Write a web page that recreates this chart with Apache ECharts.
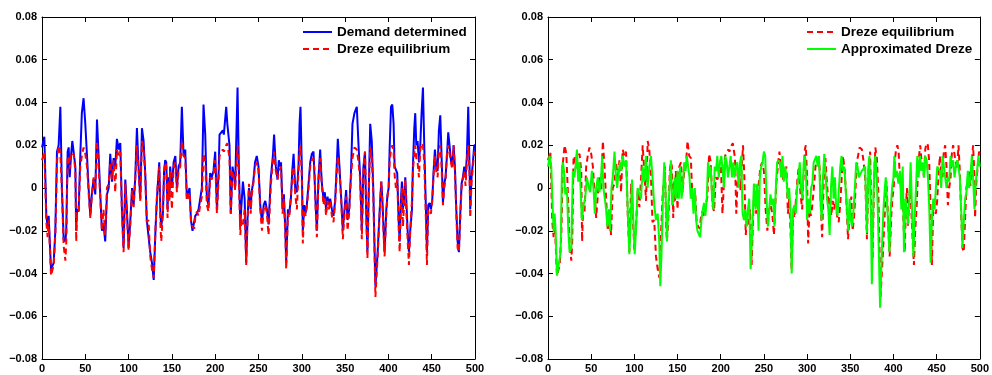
<!DOCTYPE html>
<html>
<head>
<meta charset="utf-8">
<script src="https://cdn.jsdelivr.net/npm/echarts@6/dist/echarts.min.js"></script>
<style>
  html, body { margin: 0; padding: 0; background: #fff; }
  #chart { width: 992px; height: 375px; }
</style>
</head>
<body>
<div id="chart"></div>
<script>
// [t, value]
const demandDetermined = [[0,0.019],[2.7,0.024],[5,-0.013],[6.5,-0.018],[7.7,-0.013],[10.4,-0.038],[13.5,-0.035],[15.4,-0.02],[17.3,0.017],[19.2,0.02],[21.2,0.038],[23,0],[25,-0.024],[27,-0.025],[28,-0.02],[29.6,0.017],[30.8,0.019],[32,0.005],[33.5,0.015],[35,0.022],[36.5,0.022],[38.5,0.01],[39.5,-0.02],[40.4,-0.01],[42.3,-0.011],[44.2,0.015],[46,0.035],[48,0.042],[50,0.03],[52,0.015],[53.8,0],[55.8,-0.013],[57.7,-0.002],[59.6,0.004],[61.5,-0.003],[63.5,0.032],[65.4,0.015],[67.3,-0.003],[69.2,-0.02],[71,-0.017],[73,-0.025],[75,-0.003],[77,0],[78.8,0.016],[80.8,0.003],[82.7,0.014],[84.6,0.01],[86.5,0.023],[88.5,0.018],[90.4,0.021],[92.3,-0.01],[94.2,-0.028],[96.2,0.004],[98,-0.01],[100,-0.028],[102,-0.015],[104,0],[105.8,-0.008],[107.7,0.005],[109.6,0.028],[111.5,0.01],[113.5,-0.005],[115.4,0.028],[117.3,0.022],[119.2,0.007],[121,-0.015],[123,-0.015],[125,-0.03],[127,-0.035],[129,-0.043],[131,-0.02],[132.7,-0.005],[135.4,0.012],[136.8,-0.013],[137.7,-0.018],[139.6,-0.012],[141,0.008],[142.3,0.013],[143.5,0.012],[145,-0.01],[146,0.005],[147,-0.005],[148,0.01],[150,0],[152,0.012],[154,0.015],[155.8,0],[157.7,0.01],[159.6,0.012],[161.5,0.038],[163.5,0.015],[165.4,0.018],[167.3,-0.005],[169,-0.002],[170.4,0],[172,-0.015],[173.8,-0.02],[175.8,-0.02],[177,-0.013],[178.8,-0.012],[180.8,-0.01],[182.7,-0.005],[184.6,0],[186.5,0.039],[188.5,0.025],[190.4,-0.005],[192.3,-0.008],[194.2,0.007],[196,0.005],[198,0.008],[200,0.017],[202,-0.01],[204,0.008],[205,0.025],[206.5,0.025],[208.8,0.027],[210,0.025],[212.7,0.038],[214,0.03],[216.5,0.02],[218,-0.012],[220,0.01],[222,0.005],[223,0],[225.8,0.047],[227.3,0.01],[229,-0.018],[230,-0.01],[232,0.003],[234,-0.005],[235.8,-0.035],[237.3,-0.015],[239,0],[241,-0.01],[242,-0.002],[244,0.003],[246,0.012],[248,0.015],[250,0.01],[252,-0.008],[254,-0.016],[256,-0.008],[257.8,-0.006],[259.7,-0.01],[261.6,-0.017],[264.3,0.005],[266.6,0.015],[268,0.025],[270,0.01],[272,0.004],[273.5,0.013],[275,0.01],[276,0.012],[277.8,-0.01],[279.3,-0.003],[281,-0.02],[282,-0.035],[284,-0.01],[285.5,-0.012],[287.4,-0.005],[289,0.008],[290.5,0.016],[292.4,0],[294.3,-0.002],[296.2,0.01],[297.4,0.03],[298.5,0.038],[300,0.01],[301.2,-0.02],[302.8,-0.008],[304.3,-0.012],[305.8,-0.008],[307.8,0.002],[309.7,0.012],[311.6,0.016],[313.5,0.017],[314.7,0.005],[316.2,-0.01],[317.4,-0.02],[319.3,0.005],[321.2,0.018],[323,0.003],[325,-0.005],[326.6,-0.002],[328,-0.01],[329.7,-0.004],[331.2,-0.008],[332.8,-0.005],[334.7,-0.01],[336.6,-0.013],[338.5,-0.006],[340.5,0.012],[341.6,0.023],[343.5,0.01],[345.5,-0.005],[347.4,-0.02],[349.3,-0.01],[351.2,-0.001],[352.8,-0.015],[354.7,-0.01],[356.6,0.005],[358.5,0.03],[360.8,0.035],[363.5,0.038],[365.5,0.02],[367.4,0.005],[369.3,-0.02],[371.2,0.01],[373,0.017],[374.3,-0.01],[375.8,-0.03],[377.4,0],[379,0.03],[380.8,0.022],[382.5,0],[385,-0.046],[387.6,-0.03],[389,-0.018],[390.6,-0.005],[391.8,0.003],[393,-0.005],[394.5,-0.02],[395.6,-0.03],[397.6,-0.01],[399,-0.003],[400.3,0],[401.4,0.018],[403,0.038],[404.5,0.039],[406,0.03],[407.2,0.01],[408.7,0.01],[410.2,0.007],[411.8,-0.015],[413,-0.025],[414.5,-0.005],[415.6,0.003],[416.8,-0.01],[418,-0.005],[419.5,0.005],[420.6,-0.005],[422.2,-0.02],[423.7,-0.03],[425.2,-0.02],[427.2,-0.01],[428.3,0.01],[429.9,0.028],[431,0.035],[432.2,0.02],[433.7,0.022],[435.3,0.012],[436.8,0.02],[438.3,0.035],[439.9,0.047],[441.4,0.02],[443,-0.005],[444.5,-0.03],[446,-0.008],[447.6,-0.007],[449.1,-0.01],[450.6,-0.006],[452.2,0.008],[453.7,0.018],[455.2,0.01],[456.8,0.008],[458.3,0.027],[459.9,0.034],[461.4,0.015],[463,-0.007],[464.5,0.002],[466,0.005],[467.6,0.015],[469.1,0.026],[470.6,0.02],[472.2,0.013],[473.7,0.01],[475.3,0.02],[476.8,0.01],[478.4,-0.01],[479.9,-0.025],[481.4,-0.03],[483,-0.012],[484.5,0.002],[486,0.005],[487.6,0.01],[489.1,0.005],[490.6,0.015],[492.2,0.038],[493.7,0.01],[494.5,-0.01],[496,0.005],[497.6,0.012],[499.1,0.02],[500,0.02]];

const drezeEquilibrium = [[0,0.013],[2.7,0.017],[5,-0.016],[6.5,-0.023],[7.7,-0.015],[10.4,-0.041],[13.5,-0.036],[15.4,-0.022],[17.3,0.012],[19.2,0.02],[21.2,0.016],[23,-0.002],[25,-0.027],[27,-0.034],[28,-0.026],[29.6,0.015],[30.8,0.014],[32,0.009],[33.5,0.016],[35,0.015],[36.5,0.016],[38.5,0.008],[39.5,-0.025],[40.4,-0.012],[42.3,-0.011],[44.2,0.01],[46,0.015],[48,0.019],[50,0.016],[52,0.01],[53.8,-0.002],[55.8,-0.014],[57.7,-0.003],[59.6,0.005],[61.5,-0.001],[63.5,0.022],[65.4,0.01],[67.3,-0.005],[69.2,-0.02],[71,-0.01],[73,-0.022],[75,0],[77,0.002],[78.8,0.012],[80.8,0.004],[82.7,0.013],[84.6,-0.002],[86.5,0.018],[88.5,0.015],[90.4,0.017],[92.3,-0.012],[94.2,-0.03],[96.2,0.002],[98,-0.012],[100,-0.029],[102,-0.017],[104,-0.001],[105.8,-0.009],[107.7,0.004],[109.6,0.02],[111.5,0.008],[113.5,-0.006],[115.4,0.022],[117.3,0.018],[119.2,0.006],[121,-0.016],[123,-0.015],[125,-0.032],[127,-0.038],[129,-0.042],[131,-0.02],[132.7,-0.004],[135.4,0.01],[136.8,-0.018],[137.7,-0.025],[139.6,-0.012],[141,0.008],[142.3,0.012],[143.5,0.01],[145,-0.014],[146,0.003],[147,-0.006],[148,0.008],[150,-0.01],[152,0.01],[154,0.012],[155.8,-0.002],[157.7,0.008],[159.6,0.01],[161.5,0.022],[163.5,0.015],[165.4,0.014],[167.3,-0.006],[169,-0.004],[170.4,-0.002],[172,-0.015],[173.8,-0.018],[175.8,-0.019],[177,-0.014],[178.8,-0.011],[180.8,-0.013],[182.7,-0.008],[184.6,-0.004],[186.5,0.016],[188.5,0.012],[190.4,-0.008],[192.3,-0.011],[194.2,0.005],[196,0.004],[198,0.006],[200,0.013],[202,-0.012],[204,0.005],[205,0.015],[206.5,0.015],[208.8,0.018],[210,0.017],[212.7,0.02],[214,0.021],[216.5,0.014],[218,-0.012],[220,0.008],[222,0.004],[223,-0.001],[225.8,0.02],[227.3,0.006],[229,-0.022],[230,-0.015],[232,-0.017],[234,-0.01],[235.8,-0.036],[237.3,-0.016],[239,0.002],[241,-0.012],[242,-0.004],[244,0.002],[246,0.01],[248,0.012],[250,0.008],[252,-0.01],[254,-0.02],[256,-0.01],[257.8,-0.008],[259.7,-0.012],[261.6,-0.022],[264.3,0.002],[266.6,0.012],[268,0.017],[270,0.008],[272,0.004],[273.5,0.008],[275,0.009],[276,0.01],[277.8,-0.012],[279.3,-0.005],[281,-0.022],[282,-0.038],[284,-0.012],[285.5,-0.014],[287.4,-0.014],[289,0.005],[290.5,0.01],[292.4,-0.003],[294.3,-0.01],[296.2,0.008],[297.4,0.018],[298.5,0.02],[300,0.005],[301.2,-0.026],[302.8,-0.01],[304.3,-0.013],[305.8,-0.009],[307.8,0],[309.7,0.01],[311.6,0.013],[313.5,0.014],[314.7,0.008],[316.2,-0.012],[317.4,-0.023],[319.3,0.004],[321.2,0.014],[323,0.002],[325,-0.008],[326.6,-0.004],[328,-0.013],[329.7,-0.006],[331.2,-0.01],[332.8,-0.006],[334.7,-0.013],[336.6,-0.016],[338.5,-0.007],[340.5,0.008],[341.6,0.015],[343.5,0.008],[345.5,-0.006],[347.4,-0.024],[349.3,-0.012],[351.2,-0.004],[352.8,-0.02],[354.7,-0.012],[356.6,0.004],[358.5,0.014],[360.8,0.019],[363.5,0.018],[365.5,0.012],[367.4,0.004],[369.3,-0.024],[371.2,0.008],[373,0.017],[374.3,-0.012],[375.8,-0.033],[377.4,0],[379,0.019],[380.8,0.014],[382.5,-0.002],[385,-0.051],[387.6,-0.032],[389,-0.02],[390.6,-0.006],[391.8,0.003],[393,-0.007],[394.5,-0.022],[395.6,-0.032],[397.6,-0.012],[399,-0.004],[400.3,0],[401.4,0.012],[403,0.018],[404.5,0.02],[406,0.017],[407.2,0.006],[408.7,0],[410.2,0.004],[411.8,-0.018],[413,-0.03],[414.5,-0.008],[415.6,0],[416.8,-0.018],[418,-0.008],[419.5,0.004],[420.6,-0.01],[422.2,-0.024],[423.7,-0.036],[425.2,-0.02],[427.2,-0.006],[428.3,0.008],[429.9,0.016],[431,0.02],[432.2,0.014],[433.7,0.012],[435.3,0.005],[436.8,0.018],[438.3,0.021],[439.9,0.02],[441.4,0.012],[443,-0.01],[444.5,-0.036],[446,-0.01],[447.6,-0.011],[449.1,-0.012],[450.6,-0.006],[452.2,0.006],[453.7,0.015],[455.2,0.008],[456.8,0.005],[458.3,0.017],[459.9,0.02],[461.4,0.01],[463,-0.008],[464.5,0],[466,0.004],[467.6,0.016],[469.1,0.02],[470.6,0.016],[472.2,0.012],[473.7,0.009],[475.3,0.02],[476.8,0.008],[478.4,-0.012],[479.9,-0.028],[481.4,-0.03],[483,-0.014],[484.5,0],[486,0.004],[487.6,0.008],[489.1,0.001],[490.6,0.012],[492.2,0.02],[493.7,0.006],[494.5,-0.014],[496,0.003],[497.6,0.01],[499.1,0.017],[500,0.016]];

const approximatedDreze = [[0,0.01],[1.9,0.015],[3.8,0.01],[5,-0.005],[6.5,-0.02],[7.7,-0.012],[8.8,-0.02],[10.4,-0.041],[12.7,-0.035],[14.6,-0.03],[16.2,0.01],[17.3,0.012],[18.5,0.008],[20,-0.003],[21.9,0],[23.5,-0.02],[25,-0.03],[27,-0.028],[28.8,0.008],[30.4,0.005],[32,0.01],[33.5,0.018],[35,0.003],[36.5,0.012],[37.7,0],[39.2,-0.015],[41.2,-0.008],[43,-0.005],[45,0.005],[47.3,0],[48.8,-0.002],[50.8,0.008],[52.7,0],[54.2,-0.012],[55.8,0],[57.7,0.005],[59.6,-0.002],[61.5,0.005],[62.7,0.015],[64.2,0],[65.8,-0.005],[67.3,-0.01],[68.8,-0.018],[70.4,-0.01],[71.9,-0.02],[73.5,0],[75,0.005],[77,0.017],[78.8,0.005],[80,0],[82,0.008],[83.5,0.012],[85,0.008],[86.5,0.015],[88.5,0.01],[90.4,0.013],[92.3,-0.01],[94.2,-0.031],[96.2,-0.01],[97.3,0.004],[98.8,-0.015],[100.4,-0.031],[102,-0.018],[103.8,0],[105.8,0],[107.7,-0.005],[109.6,0.01],[111.5,0.003],[113.4,0.015],[115.3,0],[117.3,0.01],[119.2,0.015],[121,0.005],[123,-0.008],[125,-0.015],[127,-0.012],[128.8,-0.025],[130,-0.046],[131.5,-0.03],[133,-0.005],[134.6,0.012],[136,0],[137.7,-0.025],[139.2,-0.01],[140.7,0],[142.3,0.013],[143.8,-0.008],[145.3,-0.005],[146.9,0.005],[148.4,-0.005],[150,0.008],[151.5,-0.005],[153,0.01],[154.6,-0.005],[156,0],[157.7,0.012],[159.2,0.008],[160.7,0.015],[162.3,0.01],[163.8,0.005],[165.3,-0.005],[166.9,0],[168.4,-0.012],[170,0],[171.5,-0.015],[173,-0.02],[175,-0.02],[176.1,-0.023],[177.7,-0.015],[179.2,-0.01],[180.7,-0.007],[182.3,-0.013],[183.8,-0.005],[185.3,0.012],[186.9,0.005],[188.4,0.01],[190,-0.005],[191.5,-0.01],[193,0.01],[194.6,0.008],[196,0.015],[197.7,0.005],[199.2,0.012],[200.7,0.015],[202.3,0.008],[203.8,0],[205.3,0.015],[206.9,0.012],[208.4,0.005],[210,0.01],[211.5,0.015],[213,0.005],[214.6,0.012],[216,0.005],[217.7,0.01],[219.2,0.012],[220.7,0],[222.3,0.012],[223.8,0.015],[225.3,-0.012],[226.9,-0.015],[228.4,-0.01],[230,-0.018],[231.5,-0.01],[233,-0.005],[234.6,-0.038],[236.5,-0.02],[238.4,0.002],[240.3,-0.01],[242.2,0.002],[243.8,-0.02],[245.3,0.005],[246.9,0.01],[248.4,0.012],[250,0.017],[251.5,0.015],[253,-0.005],[254.6,-0.018],[256.1,-0.01],[257.6,-0.003],[259.2,-0.008],[260.7,-0.005],[262.2,-0.018],[263.8,0],[265.3,0.012],[266.9,0.013],[268.4,0.012],[269.9,0.005],[271.5,0.015],[273,0.003],[274.6,0.01],[276.1,0.005],[277.6,-0.005],[279.2,0],[280.7,-0.01],[282.2,-0.04],[283.8,-0.01],[285.3,-0.008],[286.9,-0.012],[288.4,0],[290,0.005],[291.5,0.012],[293,0],[294.6,-0.005],[296.1,0.012],[297.6,0.015],[298.8,0.005],[300,-0.015],[301.5,-0.005],[303,-0.012],[304.6,0],[306.1,0.002],[307.6,0.012],[309.2,0.012],[310.7,0.015],[312.2,0.01],[313.8,0.015],[315.3,-0.005],[316.9,-0.015],[318.4,0.005],[319.9,0.016],[321.5,0.005],[323,-0.005],[324.6,-0.01],[326.1,-0.022],[327.6,0],[329.2,0.01],[330.7,-0.005],[332.2,0.005],[333.8,-0.01],[335.3,-0.013],[336.9,0],[338.4,0.01],[339.9,0.015],[341.5,0.008],[343,0.01],[344.6,0],[346.1,-0.01],[347.6,-0.02],[349.2,-0.005],[350.7,-0.015],[352.2,-0.018],[353.8,-0.01],[355.3,0],[356.9,0.012],[358.4,0.01],[360,0.005],[361.5,0.005],[363.4,0.008],[365.3,0.008],[367.2,0.01],[369.2,-0.021],[371,0.01],[372.2,0.015],[373.8,-0.01],[375,-0.045],[376.8,-0.005],[378,0.012],[379.1,0.015],[380.7,0.005],[382.2,-0.015],[384.5,-0.056],[386.5,-0.03],[388.4,-0.01],[390,0],[391.1,0.005],[393,-0.01],[395.3,-0.03],[396.8,-0.01],[398.4,0],[400,0.005],[401,0.015],[402.6,0.005],[403.8,0.008],[405.7,0.002],[407.6,0.008],[409.1,-0.01],[410.7,0.01],[412.2,-0.03],[413.8,-0.005],[415.3,-0.01],[416.8,-0.017],[418.4,-0.005],[419.9,0.012],[421.5,-0.01],[423,-0.032],[424.5,-0.015],[426.1,0],[427.6,0.015],[429.2,0.005],[430.7,0.015],[432.2,0.008],[433.8,0.012],[435.3,0.005],[436.8,0.015],[438.4,0.013],[439.9,0.005],[441.5,-0.01],[443,-0.035],[444.5,-0.015],[446.1,-0.005],[447.6,-0.01],[449.1,0],[450.7,0.01],[452.2,0.01],[453.8,0.008],[455.3,0],[456.8,0.015],[458.3,0.015],[459.9,0.005],[461.5,0],[463,0.005],[464.5,0.003],[466.1,0.015],[467.6,0.01],[469.1,0.013],[470.7,0.005],[472.2,0.01],[473.8,0.013],[475.3,0.01],[476.8,0.005],[478.4,-0.01],[479.9,-0.028],[481.5,-0.015],[483,-0.005],[484.5,-0.002],[486.1,0.008],[487.6,0],[489.2,0.005],[490.7,0.015],[492.2,0.005],[493.8,-0.01],[495.3,0.003],[496.8,0.008],[498.4,0.015],[500,0.01]];

const xRange = [0, 500];
const yRange = [-0.08, 0.08];

const chart = echarts.init(document.getElementById('chart'), null, { renderer: 'canvas' });

const FONT = '"Liberation Sans", Arial, Helvetica, sans-serif';

function xAxes(gridIndex) {
  const base = {
    type: 'value', gridIndex, min: xRange[0], max: xRange[1], interval: 50,
    splitLine: { show: false },
    axisLine: { show: true, onZero: false, lineStyle: { color: '#000', width: 1 } },
    axisTick: { show: true, inside: true, length: 5, lineStyle: { color: '#000' } }
  };
  return [
    Object.assign({}, base, {
      position: 'bottom',
      axisLabel: { show: true, color: '#000', fontFamily: FONT, fontWeight: 'bold', fontSize: 11, margin: 4 }
    }),
    Object.assign({}, base, { position: 'top', axisLabel: { show: false } })
  ];
}

function yAxes(gridIndex) {
  const base = {
    type: 'value', gridIndex, min: yRange[0], max: yRange[1], interval: 0.02,
    splitLine: { show: false },
    axisLine: { show: true, onZero: false, lineStyle: { color: '#000', width: 1 } },
    axisTick: { show: true, inside: true, length: 5, lineStyle: { color: '#000' } }
  };
  return [
    Object.assign({}, base, {
      position: 'left',
      axisLabel: {
        show: true, color: '#000', fontFamily: FONT, fontWeight: 'bold', fontSize: 11, margin: 5,
        formatter: (v) => {
          const r = Math.round(v * 100) / 100;
          if (r === 0) return '0';
          return (r < 0 ? '\u2212' : '') + Math.abs(r).toFixed(2);
        }
      }
    }),
    Object.assign({}, base, { position: 'right', axisLabel: { show: false } })
  ];
}

function lineSeries(name, data, axisIdx, color, type) {
  return {
    name, type: 'line', data,
    xAxisIndex: axisIdx, yAxisIndex: axisIdx,
    symbol: 'none', showSymbol: false, clip: true,
    lineStyle: { color, width: 2, type },
    itemStyle: { color },
    animation: false
  };
}

const legendText = { color: '#000', fontFamily: FONT, fontWeight: 'bold', fontSize: 13.5 };

// legend: line sample only, no marker
const legendBase = {
  orient: 'vertical', top: 25, padding: 0,
  itemWidth: 29, itemHeight: 14, itemGap: 3,
  itemStyle: { opacity: 0 },
  textStyle: legendText
};

const option = {
  backgroundColor: '#fff',
  animation: false,
  grid: [
    { left: 42, right: 517, top: 17, bottom: 16 },
    { left: 548, right: 10, top: 17, bottom: 16 }
  ],
  xAxis: [...xAxes(0), ...xAxes(1)],
  yAxis: [...yAxes(0), ...yAxes(1)],
  legend: [
    Object.assign({}, legendBase, { data: ['Demand determined', 'Dreze equilibrium'], left: 302 }),
    Object.assign({}, legendBase, { data: ['Dreze equilibrium ', 'Approximated Dreze'], left: 806 })
  ],
  series: [
    lineSeries('Demand determined', demandDetermined, 0, '#0000ff', 'solid'),
    lineSeries('Dreze equilibrium', drezeEquilibrium, 0, '#ff0000', [6, 4]),
    lineSeries('Dreze equilibrium ', drezeEquilibrium, 2, '#ff0000', [6, 4]),
    lineSeries('Approximated Dreze', approximatedDreze, 2, '#00ff00', 'solid')
  ]
};

chart.setOption(option);
</script>
</body>
</html>
